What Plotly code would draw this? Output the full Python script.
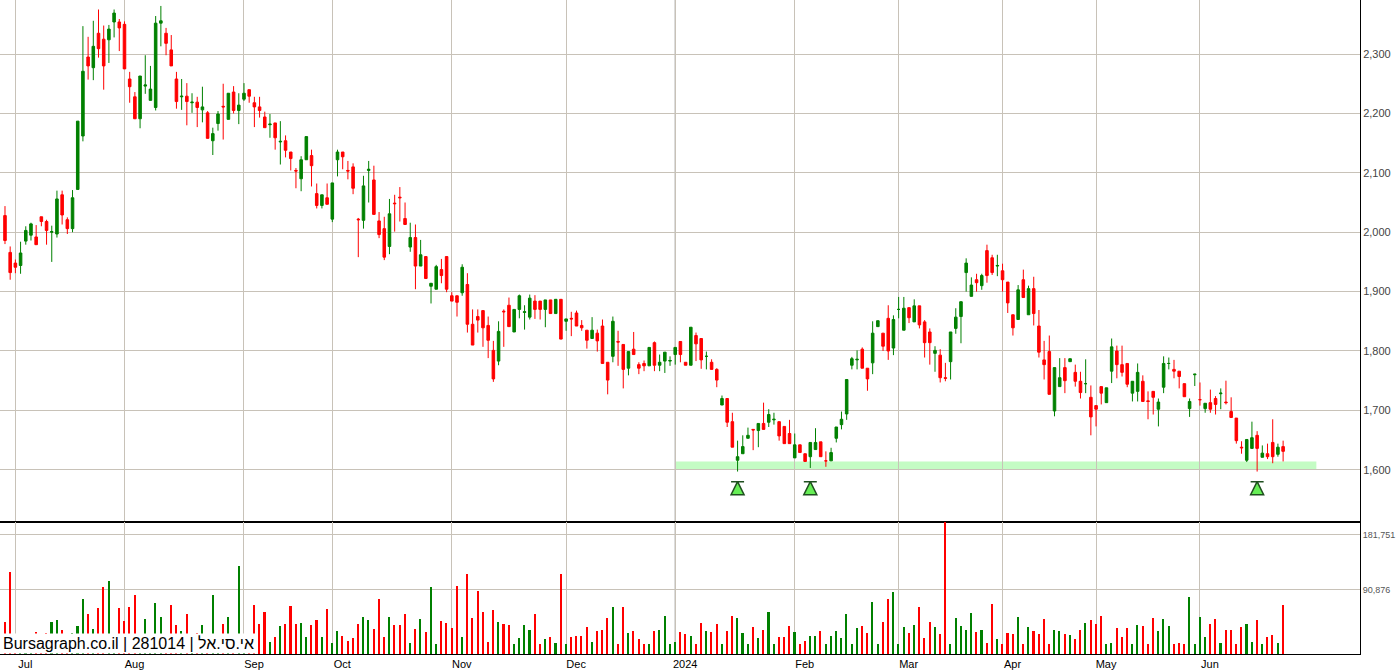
import plotly.graph_objects as go
from plotly.subplots import make_subplots

# daily candles (ILS agorot), one row per trading day
opens = [2028, 1966, 1948, 1944, 1985, 1995, 1992, 2026, 2018, 2000, 1997, 2063, 2021, 2006, 2072, 2162, 2295, 2277, 2335, 2325,
         2324, 2354, 2354, 2350, 2258, 2228, 2191, 2246, 2222, 2210, 2352, 2335, 2307, 2258, 2228, 2229, 2218, 2219, 2206, 2201,
         2154, 2183, 2212, 2190, 2236, 2205, 2224, 2240, 2218, 2211, 2194, 2181, 2184, 2152, 2154, 2135, 2104, 2090, 2122, 2129,
         2065, 2045, 2058, 2022, 2122, 2135, 2104, 2110, 2022, 2020, 2104, 2088, 2019, 2006, 1976, 2049, 2059, 2023, 1975, 1991,
         1943, 1959, 1909, 1904, 1937, 1959, 1893, 1893, 1898, 1912, 1845, 1858, 1868, 1843, 1801, 1783, 1867, 1877, 1832, 1870,
         1865, 1857, 1884, 1884, 1870, 1886, 1863, 1887, 1850, 1855, 1864, 1843, 1835, 1821, 1830, 1842, 1781, 1791, 1816, 1811,
         1771, 1803, 1777, 1779, 1775, 1814, 1776, 1783, 1783, 1794, 1816, 1781, 1776, 1826, 1821, 1791, 1781, 1769, 1709, 1720,
         1681, 1616, 1627, 1653, 1668, 1666, 1678, 1680, 1684, 1681, 1673, 1661, 1620, 1642, 1627, 1622, 1634, 1647, 1615, 1615,
         1653, 1676, 1694, 1776, 1785, 1803, 1771, 1780, 1841, 1830, 1855, 1805, 1870, 1835, 1873, 1849, 1876, 1849, 1832, 1796,
         1793, 1755, 1782, 1838, 1858, 1932, 1892, 1920, 1910, 1969, 1957, 1943, 1935, 1916, 1861, 1853, 1920, 1861, 1905, 1842,
         1785, 1799, 1699, 1740, 1772, 1782, 1764, 1749, 1745, 1722, 1708, 1740, 1713, 1766, 1800, 1777, 1779, 1729, 1732, 1749,
         1716, 1732, 1702, 1739, 1779, 1769, 1766, 1745, 1703, 1760, 1718, 1703, 1713, 1720, 1728, 1714, 1698, 1687, 1638, 1616,
         1636, 1658, 1621, 1627, 1646, 1626, 1639]
highs = [2044, 1976, 1954, 1984, 2010, 2016, 2012, 2026, 2021, 2011, 2070, 2070, 2025, 2071, 2187, 2347, 2329, 2356, 2375, 2348,
         2349, 2375, 2359, 2355, 2270, 2236, 2263, 2298, 2280, 2364, 2381, 2344, 2332, 2270, 2258, 2251, 2234, 2228, 2245, 2204,
         2176, 2204, 2250, 2234, 2246, 2234, 2251, 2240, 2228, 2228, 2203, 2199, 2184, 2187, 2163, 2135, 2108, 2128, 2161, 2139,
         2082, 2063, 2082, 2083, 2139, 2135, 2120, 2116, 2024, 2095, 2120, 2112, 2034, 2026, 2056, 2063, 2076, 2050, 2016, 2013,
         1987, 1959, 1914, 1945, 1955, 1959, 1899, 1893, 1946, 1931, 1870, 1870, 1868, 1858, 1817, 1850, 1870, 1890, 1870, 1895,
         1877, 1895, 1894, 1884, 1886, 1886, 1887, 1887, 1854, 1866, 1868, 1852, 1835, 1857, 1836, 1853, 1781, 1858, 1834, 1811,
         1799, 1832, 1781, 1784, 1806, 1816, 1794, 1798, 1791, 1806, 1816, 1781, 1840, 1831, 1821, 1799, 1786, 1771, 1725, 1720,
         1696, 1649, 1658, 1671, 1668, 1678, 1713, 1702, 1696, 1681, 1673, 1684, 1661, 1642, 1627, 1646, 1670, 1647, 1631, 1637,
         1672, 1698, 1752, 1790, 1801, 1806, 1771, 1850, 1851, 1830, 1877, 1860, 1891, 1891, 1873, 1887, 1876, 1852, 1838, 1808,
         1803, 1780, 1832, 1872, 1883, 1956, 1924, 1930, 1930, 1979, 1962, 1962, 1947, 1916, 1861, 1911, 1937, 1910, 1925, 1869,
         1817, 1826, 1772, 1788, 1788, 1787, 1777, 1765, 1786, 1742, 1708, 1740, 1738, 1821, 1809, 1809, 1779, 1749, 1779, 1759,
         1732, 1732, 1720, 1791, 1789, 1785, 1766, 1745, 1720, 1761, 1747, 1712, 1735, 1724, 1737, 1750, 1722, 1687, 1648, 1651,
         1681, 1665, 1641, 1644, 1685, 1644, 1649]
lows = [1980, 1920, 1931, 1930, 1979, 1986, 1979, 2010, 1979, 1950, 1991, 2013, 1997, 2000, 2072, 2153, 2257, 2256, 2294, 2240,
        2285, 2328, 2305, 2275, 2218, 2191, 2175, 2233, 2222, 2205, 2313, 2298, 2280, 2208, 2206, 2180, 2201, 2177, 2185, 2158,
        2130, 2171, 2156, 2190, 2200, 2182, 2221, 2218, 2177, 2193, 2176, 2159, 2139, 2114, 2126, 2104, 2074, 2069, 2122, 2077,
        2040, 2040, 2047, 2017, 2094, 2106, 2089, 2064, 1958, 2006, 2050, 2030, 1990, 1953, 1963, 2001, 2018, 2013, 1967, 1904,
        1943, 1922, 1880, 1904, 1914, 1899, 1884, 1858, 1893, 1831, 1810, 1831, 1807, 1788, 1748, 1776, 1807, 1841, 1832, 1855,
        1836, 1853, 1854, 1853, 1840, 1863, 1863, 1820, 1834, 1825, 1842, 1834, 1804, 1821, 1799, 1779, 1727, 1781, 1775, 1737,
        1759, 1794, 1761, 1766, 1775, 1766, 1766, 1763, 1775, 1777, 1781, 1776, 1776, 1783, 1770, 1769, 1769, 1739, 1709, 1672,
        1638, 1597, 1627, 1653, 1633, 1638, 1668, 1672, 1676, 1649, 1644, 1644, 1620, 1629, 1614, 1603, 1634, 1622, 1605, 1615,
        1646, 1668, 1684, 1769, 1769, 1771, 1733, 1761, 1841, 1800, 1785, 1793, 1855, 1835, 1847, 1849, 1838, 1789, 1777, 1765,
        1747, 1749, 1752, 1829, 1813, 1900, 1892, 1900, 1903, 1915, 1928, 1926, 1900, 1864, 1826, 1853, 1890, 1861, 1843, 1789,
        1752, 1727, 1690, 1740, 1729, 1782, 1740, 1720, 1729, 1658, 1673, 1710, 1713, 1746, 1754, 1757, 1739, 1715, 1715, 1715,
        1685, 1693, 1673, 1729, 1769, 1754, 1737, 1723, 1689, 1741, 1708, 1696, 1696, 1693, 1702, 1710, 1688, 1644, 1627, 1613,
        1636, 1597, 1621, 1618, 1611, 1622, 1614]
closes = [1986, 1932, 1941, 1965, 2003, 2014, 1979, 2018, 2003, 2001, 2056, 2029, 2006, 2058, 2187, 2271, 2280, 2313, 2309, 2280,
          2342, 2369, 2344, 2275, 2245, 2191, 2263, 2248, 2241, 2352, 2356, 2318, 2280, 2220, 2229, 2220, 2219, 2210, 2211, 2158,
          2166, 2199, 2211, 2234, 2205, 2214, 2234, 2229, 2211, 2205, 2176, 2182, 2159, 2153, 2138, 2124, 2103, 2122, 2161, 2112,
          2045, 2063, 2047, 2083, 2135, 2127, 2103, 2074, 2021, 2078, 2106, 2030, 1996, 1958, 2031, 2048, 2058, 2013, 1991, 1943,
          1962, 1922, 1914, 1942, 1927, 1904, 1884, 1882, 1941, 1845, 1810, 1852, 1839, 1818, 1753, 1833, 1866, 1841, 1870, 1893,
          1866, 1889, 1870, 1870, 1886, 1863, 1887, 1820, 1854, 1854, 1842, 1839, 1818, 1835, 1817, 1779, 1751, 1850, 1815, 1769,
          1799, 1794, 1771, 1775, 1806, 1776, 1781, 1798, 1784, 1806, 1794, 1776, 1840, 1812, 1785, 1791, 1769, 1751, 1720, 1680,
          1638, 1622, 1639, 1658, 1667, 1678, 1668, 1693, 1685, 1657, 1644, 1644, 1642, 1629, 1614, 1646, 1646, 1622, 1615, 1629,
          1672, 1685, 1752, 1787, 1786, 1771, 1753, 1830, 1851, 1808, 1800, 1853, 1870, 1872, 1856, 1876, 1844, 1814, 1814, 1801,
          1755, 1754, 1832, 1857, 1883, 1948, 1911, 1915, 1927, 1927, 1932, 1944, 1920, 1881, 1839, 1903, 1890, 1905, 1863, 1798,
          1777, 1727, 1772, 1755, 1750, 1787, 1749, 1730, 1745, 1689, 1702, 1729, 1738, 1807, 1777, 1764, 1744, 1749, 1764, 1715,
          1715, 1722, 1714, 1779, 1779, 1766, 1757, 1723, 1715, 1761, 1718, 1712, 1702, 1710, 1729, 1713, 1688, 1649, 1637, 1651,
          1654, 1636, 1628, 1622, 1622, 1638, 1631]
# daily volume, thousands of shares
volume_k = [38, 121, 8, 8, 8, 8, 21, 8, 20, 38, 41, 25, 8, 20, 31, 76, 51, 26, 61, 96,
            106, 8, 61, 40, 63, 83, 8, 43, 17, 69, 46, 8, 66, 33, 23, 51, 8, 20, 33, 8,
            83, 8, 35, 46, 8, 131, 8, 15, 66, 35, 55, 5, 13, 31, 35, 64, 35, 36, 13, 33,
            41, 13, 60, 3, 23, 15, 7, 12, 35, 46, 41, 26, 76, 13, 46, 33, 33, 51, 3, 26,
            43, 21, 96, 2, 40, 36, 28, 98, 13, 117, 45, 89, 55, 5, 58, 38, 35, 33, 1, 12,
            33, 25, 51, 1, 10, 13, 3, 117, 1, 13, 15, 15, 30, 5, 23, 25, 45, 63, 2, 63,
            20, 23, 10, 1, 2, 23, 25, 48, 1, 5, 21, 18, 15, 1,
            36, 23, 21, 35, 1, 23, 48, 45, 20, 1, 30, 12, 25, 55, 1, 13, 13, 31, 21, 1,
            7, 15, 15, 23, 1, 15, 23, 12, 51, 1, 28, 31, 20, 71, 1, 38, 76, 88, 2, 30,
            20, 33, 63, 12, 38, 30, 18, 205, 1, 45, 31, 25, 53, 21, 25, 3, 68, 10, 2, 20,
            18, 46, 2, 30, 23, 18, 43, 2, 25, 23, 18, 17, 10, 25, 36, 41, 35, 48, 1, 3,
            28, 13, 28, 1, 33, 31, 2, 45, 23, 43, 31, 1, 3, 1, 79, 2, 46, 13, 35, 43,
            3, 25, 25, 1, 30, 35, 5, 41, 1, 13, 17, 3, 66]

# trading-day index of the first session of each month
month_idx = [2, 23, 46, 63, 86, 108, 129, 152, 172, 192, 210, 230]
month_lbl = ["Jul", "Aug", "Sep", "Oct", "Nov", "Dec", "2024", "Feb", "Mar", "Apr", "May", "Jun"]
support_level = [1600, 1614]
signal_idx = [141, 155, 241]

price_ticks = list(range(1600, 2301, 100))
vol_ticks = [90876, 181751]

GREEN, RED = "#008000", "#ff0000"
GRID = "#c8c2b8"
FONT = "Liberation Sans, Arial"

x = list(range(len(closes)))
volume = [v * 1000 for v in volume_k]
vol_colors = [GREEN if c >= o else RED for o, c in zip(opens, closes)]
VBASE = -15000

fig = make_subplots(rows=2, cols=1, shared_xaxes=True, vertical_spacing=0,
                    row_heights=[0.7982, 0.2018])

fig.add_trace(go.Candlestick(
    x=x, open=opens, high=highs, low=lows, close=closes,
    increasing=dict(line=dict(color=GREEN, width=1), fillcolor=GREEN),
    decreasing=dict(line=dict(color=RED, width=1), fillcolor=RED),
    whiskerwidth=0, showlegend=False, hoverinfo="x+y",
), row=1, col=1)

# buy signals under the double/triple bottom
fig.add_trace(go.Scatter(
    x=signal_idx, y=[1580] * len(signal_idx), mode="markers",
    marker=dict(symbol="arrow-bar-up", size=13, color="#66ee55",
                line=dict(color="#1f4f1f", width=1.5)),
    showlegend=False, hoverinfo="skip",
), row=1, col=1)

fig.add_trace(go.Bar(
    x=x, y=[v - VBASE for v in volume], base=VBASE, width=0.3,
    marker=dict(color=vol_colors, line=dict(width=0)),
    showlegend=False, hoverinfo="skip",
), row=2, col=1)

# support band
fig.add_shape(type="rect", xref="x", yref="y", x0=129, x1=252.4,
              y0=support_level[0], y1=support_level[1],
              fillcolor="#c4fcc4", line=dict(width=0), layer="below")

# year boundary line
for yr in ["y domain", "y2 domain"]:
    fig.add_shape(type="line", xref="x", yref=yr, x0=129, x1=129, y0=0, y1=1,
                  line=dict(color="#808080", width=1), layer="below")

xrange = [-0.96, 260.8]
fig.update_xaxes(range=xrange, showgrid=True, gridcolor=GRID, gridwidth=1,
                 tickvals=month_idx, ticktext=month_lbl, zeroline=False,
                 showline=True, linecolor="black", linewidth=1, mirror=True,
                 rangeslider_visible=False, ticks="", automargin=False)
fig.update_xaxes(showticklabels=False, row=1, col=1)
fig.update_xaxes(ticklabelshift=10, ticklabelstandoff=0,
                 tickfont=dict(size=11, color="black", family=FONT), row=2, col=1)

fig.update_yaxes(side="right", showgrid=True, gridcolor=GRID, gridwidth=1,
                 zeroline=False, showline=True, linecolor="black", linewidth=1,
                 mirror=True, ticks="", automargin=False,
                 tickfont=dict(size=11, color="#444", family=FONT))
fig.update_yaxes(range=[1512, 2391], tickvals=price_ticks, tickformat=",",
                 row=1, col=1)
fig.update_yaxes(range=[VBASE, 203000], tickvals=vol_ticks, tickformat=",",
                 tickfont=dict(size=9, color="#555"), row=2, col=1)

fig.add_annotation(xref="paper", yref="paper", x=0.001, y=0.0, xanchor="left",
                   yanchor="bottom", showarrow=False, bgcolor="white",
                   text="Bursagraph.co.il | 281014 | אי.סי.אל",
                   font=dict(size=16, color="black", family=FONT))

fig.update_layout(width=1396, height=670, margin=dict(l=0, r=36, t=0, b=16),
                  plot_bgcolor="white", paper_bgcolor="white", bargap=0,
                  hovermode="closest")

# page body has a default 8px margin; drop it so the chart fills the window
fig.write_html("out.html", config={"displayModeBar": False},
               post_script="document.body.style.margin='0';"
               "document.body.style.overflow='hidden';")
